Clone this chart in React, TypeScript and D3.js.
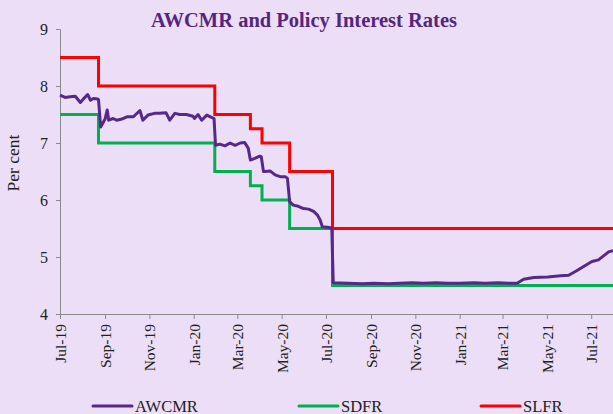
import React, { useEffect, useRef } from 'react';
import * as d3 from 'd3';

// AWCMR
const awcmrDates = [
  '2019-07-01', '2019-07-08', '2019-07-15', '2019-07-22', '2019-07-29', '2019-08-02', '2019-08-08',
  '2019-08-12', '2019-08-16', '2019-08-22', '2019-08-23', '2019-08-26', '2019-09-01', '2019-09-04',
  '2019-09-06', '2019-09-12', '2019-09-17', '2019-09-24', '2019-10-01', '2019-10-10', '2019-10-19',
  '2019-10-23', '2019-10-30', '2019-11-08', '2019-11-15', '2019-11-24', '2019-11-29', '2019-12-06',
  '2019-12-13', '2019-12-22', '2019-12-31', '2020-01-02', '2020-01-07', '2020-01-12', '2020-01-19',
  '2020-01-24', '2020-01-29', '2020-01-31', '2020-02-06', '2020-02-13', '2020-02-20', '2020-02-27',
  '2020-03-05', '2020-03-11', '2020-03-16', '2020-03-19', '2020-03-25', '2020-04-01', '2020-04-03',
  '2020-04-06', '2020-04-08', '2020-04-15', '2020-04-22', '2020-04-29', '2020-05-06', '2020-05-09',
  '2020-05-12', '2020-05-17', '2020-05-24', '2020-05-31', '2020-06-07', '2020-06-14', '2020-06-19',
  '2020-06-23', '2020-06-26', '2020-07-03', '2020-07-09', '2020-07-11', '2020-08-01', '2020-08-20',
  '2020-09-05', '2020-09-25', '2020-10-10', '2020-10-28', '2020-11-12', '2020-11-30', '2020-12-15',
  '2021-01-01', '2021-01-20', '2021-02-05', '2021-02-22', '2021-03-10', '2021-03-21', '2021-03-30',
  '2021-04-13', '2021-05-02', '2021-05-20', '2021-05-31', '2021-06-11', '2021-06-20', '2021-07-02',
  '2021-07-11', '2021-07-18', '2021-07-25', '2021-07-31',
];
const awcmrValues = [
  7.84, 7.8, 7.81, 7.82, 7.71, 7.77, 7.85,
  7.75, 7.78, 7.77, 7.76, 7.28, 7.42, 7.58,
  7.4, 7.43, 7.4, 7.42, 7.46, 7.46, 7.57,
  7.4, 7.49, 7.52, 7.52, 7.53, 7.4, 7.52,
  7.5, 7.5, 7.47, 7.43, 7.5, 7.4, 7.49,
  7.46, 7.43, 6.96, 6.98, 6.95, 7.0, 6.96,
  7.0, 7.01, 6.91, 6.7, 6.73, 6.77, 6.76,
  6.5, 6.5, 6.51, 6.44, 6.41, 6.41, 6.38,
  5.97, 5.91, 5.89, 5.85, 5.84, 5.8, 5.74,
  5.65, 5.53, 5.52, 5.51, 4.55, 4.54, 4.53,
  4.54, 4.53, 4.54, 4.55, 4.54, 4.55, 4.54,
  4.54, 4.55, 4.54, 4.55, 4.54, 4.54, 4.61,
  4.64, 4.65, 4.67, 4.68, 4.76, 4.83, 4.92,
  4.95, 5.02, 5.09, 5.11,
];

// policy rate changes
const policyDates = ['2019-07-01', '2019-08-23', '2020-01-30', '2020-03-19', '2020-04-04', '2020-05-12', '2020-07-10', '2021-07-31'];
const sdfrValues = [7.5, 7.0, 6.5, 6.25, 6.0, 5.5, 4.5, 4.5];
const slfrValues = [8.5, 8.0, 7.5, 7.25, 7.0, 6.5, 5.5, 5.5];

const yTicks = [4, 5, 6, 7, 8, 9];

const W = 613;
const H = 414;

export default function App() {
  const svgRef = useRef<SVGSVGElement | null>(null);

  useEffect(() => {
    if (!svgRef.current) return;
    const svg = d3.select(svgRef.current);
    svg.selectAll('*').remove();

    const parse = d3.timeParse('%Y-%m-%d');
    const margin = { top: 29, right: 0, bottom: 100, left: 60 };
    const font = '"Liberation Serif", "DejaVu Serif", serif';

    const x = d3.scaleTime()
      .domain([parse('2019-07-01')!, parse('2021-07-31')!])
      .range([margin.left, W - margin.right]);
    const y = d3.scaleLinear().domain([4, 9]).range([H - margin.bottom, margin.top]);

    svg.append('rect').attr('width', W).attr('height', H).attr('fill', '#ECDEF6');

    // title
    svg.append('text')
      .attr('x', 304).attr('y', 27)
      .attr('text-anchor', 'middle')
      .attr('font-family', font).attr('font-weight', 'bold').attr('font-size', 20.5)
      .attr('fill', '#55267F')
      .text('AWCMR and Policy Interest Rates');

    // y axis
    const yAxis = svg.append('g')
      .attr('transform', `translate(${margin.left},0)`)
      .call(d3.axisLeft(y).tickValues(yTicks).tickSize(4).tickPadding(8).tickFormat(d3.format('d')));
    yAxis.select('.domain').attr('stroke', '#8a8a8a');
    yAxis.selectAll('line').attr('stroke', '#8a8a8a');
    yAxis.selectAll('text').attr('font-family', font).attr('font-size', 16).attr('fill', '#222');

    svg.append('text')
      .attr('transform', 'translate(19,163) rotate(-90)')
      .attr('text-anchor', 'middle')
      .attr('font-family', font).attr('font-size', 17.5).attr('fill', '#222')
      .text('Per cent');

    // x axis
    const xAxis = svg.append('g')
      .attr('transform', `translate(0,${H - margin.bottom})`)
      .call(d3.axisBottom(x)
        .ticks(d3.timeMonth.every(2))
        .tickSize(5)
        .tickSizeOuter(0)
        .tickFormat(d => d3.timeFormat('%b-%y')(d as Date)));
    xAxis.select('.domain').attr('stroke', '#8a8a8a');
    xAxis.selectAll('line').attr('stroke', '#8a8a8a');
    xAxis.selectAll('text')
      .attr('font-family', font).attr('font-size', 15.5).attr('fill', '#222')
      .attr('transform', 'rotate(-90)')
      .attr('text-anchor', 'end')
      .attr('x', -10).attr('y', 0).attr('dy', '0.35em');

    // series
    const stepLine = d3.line<[Date, number]>()
      .x(d => x(d[0]))
      .y(d => y(d[1]))
      .curve(d3.curveStepAfter);
    const plainLine = d3.line<[Date, number]>()
      .x(d => x(d[0]))
      .y(d => y(d[1]));

    const sdfr = policyDates.map((d, i) => [parse(d)!, sdfrValues[i]] as [Date, number]);
    const slfr = policyDates.map((d, i) => [parse(d)!, slfrValues[i]] as [Date, number]);
    const awcmr = awcmrDates.map((d, i) => [parse(d)!, awcmrValues[i]] as [Date, number]);

    svg.append('path').datum(sdfr).attr('d', stepLine).attr('fill', 'none')
      .attr('stroke', '#00B050').attr('stroke-width', 3);
    svg.append('path').datum(slfr).attr('d', stepLine).attr('fill', 'none')
      .attr('stroke', '#FF0000').attr('stroke-width', 3);
    svg.append('path').datum(awcmr).attr('d', plainLine).attr('fill', 'none')
      .attr('stroke', '#57288A').attr('stroke-width', 3).attr('stroke-linejoin', 'round');

    // legend
    const legend = [
      { name: 'AWCMR', color: '#57288A', x: 93 },
      { name: 'SDFR', color: '#00B050', x: 299 },
      { name: 'SLFR', color: '#FF0000', x: 481 },
    ];
    const lg = svg.append('g').selectAll('g').data(legend).join('g')
      .attr('transform', d => `translate(${d.x},406)`);
    lg.append('line').attr('x1', 0).attr('x2', 39).attr('y1', 0).attr('y2', 0)
      .attr('stroke', d => d.color).attr('stroke-width', 3).attr('stroke-linecap', 'round');
    lg.append('text').attr('x', 42).attr('y', 0).attr('dy', '0.35em')
      .attr('font-family', font).attr('font-size', 16.5).attr('fill', '#222')
      .text(d => d.name);
  }, []);

  return (
    <svg ref={svgRef} width={W} height={H}
      style={{ position: 'absolute', left: 0, top: 0, display: 'block' }} />
  );
}
